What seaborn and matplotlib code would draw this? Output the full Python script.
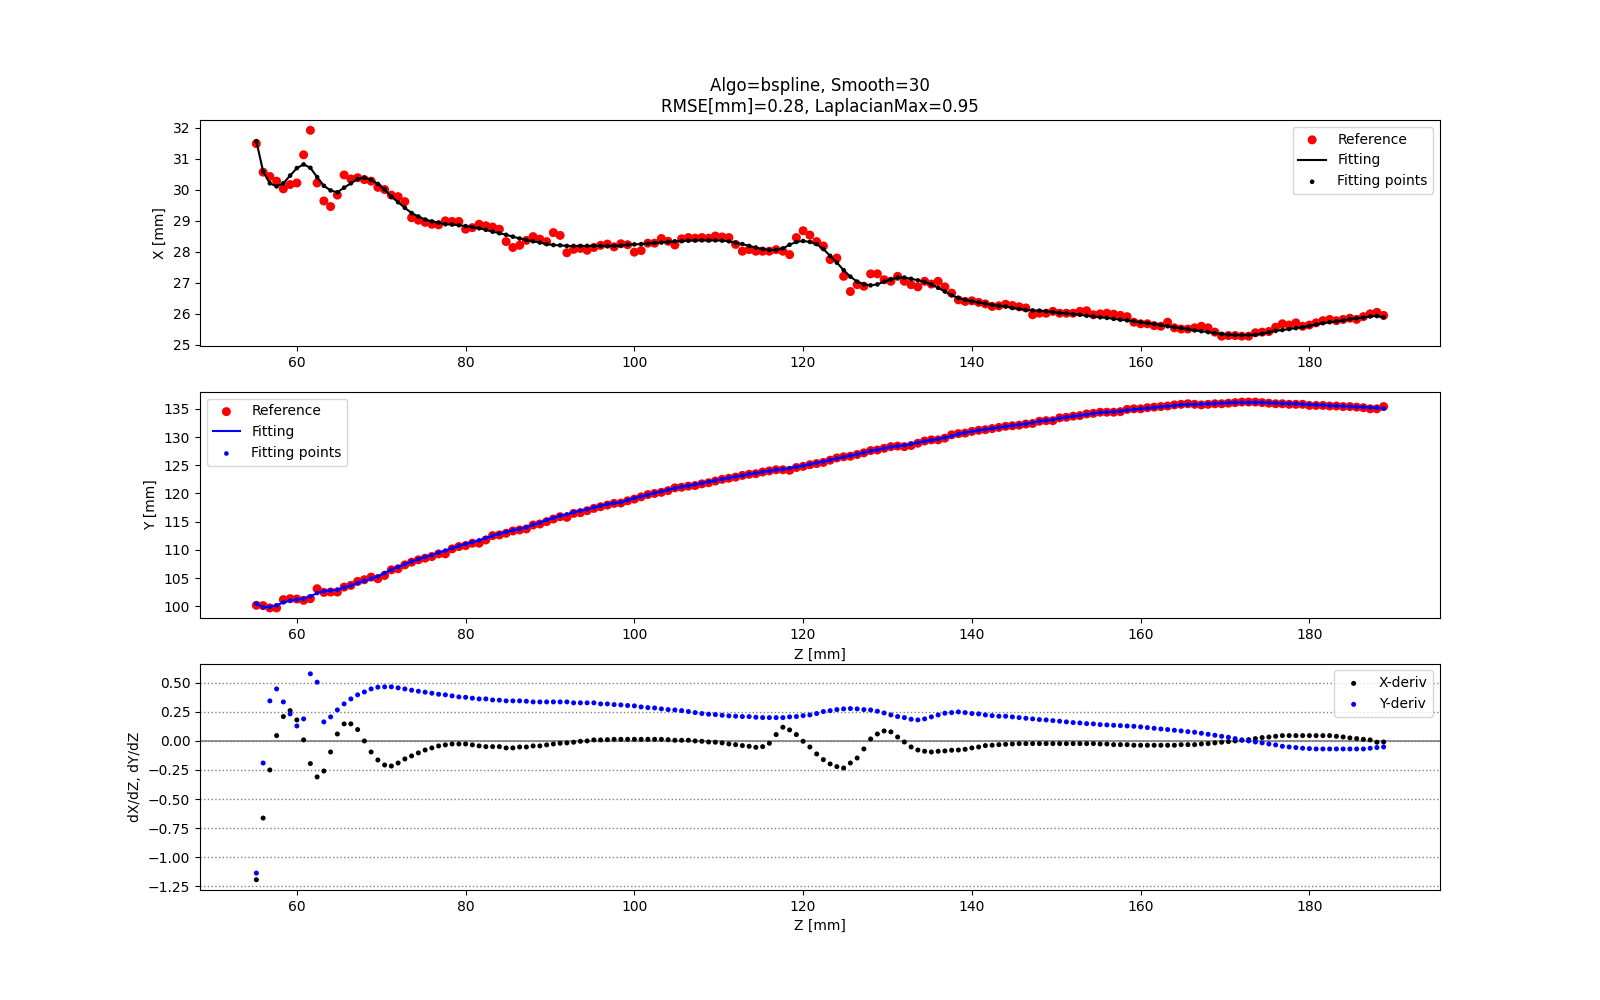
import matplotlib
matplotlib.use("Agg")
import matplotlib.pyplot as plt
from matplotlib.ticker import MultipleLocator
import seaborn as sns

# ---------------- data ----------------
Z = [55.2, 56.0, 56.8, 57.6, 58.4, 59.2, 60.0, 60.8, 61.6, 62.4,
     63.2, 64.0, 64.8, 65.6, 66.4, 67.2, 68.0, 68.8, 69.6, 70.4,
     71.2, 72.0, 72.8, 73.6, 74.4, 75.2, 76.0, 76.8, 77.6, 78.4,
     79.2, 80.0, 80.8, 81.6, 82.4, 83.2, 84.0, 84.8, 85.6, 86.4,
     87.2, 88.0, 88.8, 89.6, 90.4, 91.2, 92.0, 92.8, 93.6, 94.4,
     95.2, 96.0, 96.8, 97.6, 98.4, 99.2, 100.0, 100.8, 101.6, 102.4,
     103.2, 104.0, 104.8, 105.6, 106.4, 107.2, 108.0, 108.8, 109.6, 110.4,
     111.2, 112.0, 112.8, 113.6, 114.4, 115.2, 116.0, 116.8, 117.6, 118.4,
     119.2, 120.0, 120.8, 121.6, 122.4, 123.2, 124.0, 124.8, 125.6, 126.4,
     127.2, 128.0, 128.8, 129.6, 130.4, 131.2, 132.0, 132.8, 133.6, 134.4,
     135.2, 136.0, 136.8, 137.6, 138.4, 139.2, 140.0, 140.8, 141.6, 142.4,
     143.2, 144.0, 144.8, 145.6, 146.4, 147.2, 148.0, 148.8, 149.6, 150.4,
     151.2, 152.0, 152.8, 153.6, 154.4, 155.2, 156.0, 156.8, 157.6, 158.4,
     159.2, 160.0, 160.8, 161.6, 162.4, 163.2, 164.0, 164.8, 165.6, 166.4,
     167.2, 168.0, 168.8, 169.6, 170.4, 171.2, 172.0, 172.8, 173.6, 174.4,
     175.2, 176.0, 176.8, 177.6, 178.4, 179.2, 180.0, 180.8, 181.6, 182.4,
     183.2, 184.0, 184.8, 185.6, 186.4, 187.2, 188.0, 188.8]

X_ref = [31.48, 30.56, 30.42, 30.27, 30.02, 30.16, 30.21, 31.12, 31.91, 30.21,
         29.63, 29.45, 29.82, 30.47, 30.34, 30.38, 30.32, 30.27, 30.07, 30.00,
         29.82, 29.77, 29.61, 29.09, 29.01, 28.94, 28.88, 28.86, 28.99, 28.97,
         28.97, 28.72, 28.77, 28.88, 28.83, 28.79, 28.72, 28.32, 28.13, 28.20,
         28.36, 28.48, 28.40, 28.32, 28.61, 28.52, 27.96, 28.07, 28.10, 28.04,
         28.13, 28.20, 28.24, 28.15, 28.25, 28.22, 27.98, 28.03, 28.27, 28.27,
         28.42, 28.33, 28.21, 28.41, 28.45, 28.43, 28.45, 28.43, 28.50, 28.47,
         28.45, 28.23, 28.01, 28.06, 28.01, 28.01, 28.01, 28.06, 28.01, 27.90,
         28.45, 28.67, 28.53, 28.32, 28.18, 27.74, 27.79, 27.20, 26.71, 26.93,
         26.88, 27.28, 27.28, 27.09, 27.04, 27.20, 27.04, 26.93, 26.86, 27.04,
         26.95, 27.04, 26.86, 26.66, 26.44, 26.39, 26.41, 26.36, 26.31, 26.23,
         26.25, 26.30, 26.26, 26.22, 26.18, 25.96, 26.01, 26.01, 26.07, 26.01,
         26.01, 26.01, 26.07, 26.09, 25.96, 25.99, 26.01, 25.98, 25.94, 25.90,
         25.72, 25.67, 25.67, 25.61, 25.59, 25.72, 25.54, 25.50, 25.50, 25.54,
         25.59, 25.54, 25.40, 25.27, 25.29, 25.29, 25.27, 25.27, 25.38, 25.40,
         25.42, 25.56, 25.67, 25.63, 25.70, 25.59, 25.63, 25.70, 25.77, 25.81,
         25.77, 25.81, 25.85, 25.81, 25.90, 25.99, 26.04, 25.94]

X_fit = [31.56, 30.58, 30.20, 30.10, 30.20, 30.45, 30.69, 30.81, 30.70, 30.40,
         30.12, 29.97, 29.91, 30.06, 30.20, 30.34, 30.38, 30.31, 30.18, 30.00,
         29.77, 29.59, 29.41, 29.24, 29.13, 29.03, 28.97, 28.93, 28.88, 28.87,
         28.85, 28.82, 28.79, 28.75, 28.70, 28.64, 28.59, 28.54, 28.48, 28.42,
         28.37, 28.33, 28.29, 28.24, 28.21, 28.20, 28.18, 28.18, 28.18, 28.18,
         28.18, 28.18, 28.18, 28.18, 28.19, 28.22, 28.23, 28.24, 28.26, 28.28,
         28.29, 28.31, 28.33, 28.34, 28.35, 28.36, 28.36, 28.36, 28.36, 28.35,
         28.33, 28.28, 28.24, 28.18, 28.13, 28.08, 28.05, 28.05, 28.10, 28.22,
         28.31, 28.34, 28.31, 28.24, 28.08, 27.86, 27.64, 27.40, 27.19, 27.03,
         26.94, 26.91, 26.94, 27.03, 27.10, 27.16, 27.16, 27.12, 27.07, 27.02,
         26.94, 26.83, 26.71, 26.59, 26.50, 26.44, 26.39, 26.36, 26.32, 26.28,
         26.25, 26.23, 26.18, 26.15, 26.12, 26.10, 26.09, 26.07, 26.05, 26.02,
         26.01, 25.98, 25.96, 25.93, 25.91, 25.88, 25.86, 25.83, 25.80, 25.78,
         25.75, 25.72, 25.69, 25.66, 25.63, 25.59, 25.56, 25.53, 25.50, 25.46,
         25.43, 25.40, 25.37, 25.34, 25.32, 25.31, 25.30, 25.31, 25.32, 25.35,
         25.40, 25.44, 25.47, 25.50, 25.53, 25.56, 25.60, 25.65, 25.69, 25.72,
         25.75, 25.78, 25.82, 25.85, 25.87, 25.91, 25.92, 25.88]

Y_ref = [100.18, 100.12, 99.71, 99.71, 101.18, 101.35, 101.29, 101.06, 101.35, 103.12,
         102.47, 102.53, 102.53, 103.41, 103.71, 104.41, 104.71, 105.18, 104.88, 105.47,
         106.47, 106.65, 107.35, 107.82, 108.24, 108.53, 108.82, 109.29, 109.29, 110.18,
         110.59, 110.76, 111.18, 111.18, 111.76, 112.53, 112.65, 112.94, 113.35, 113.53,
         113.71, 114.41, 114.59, 115.00, 115.47, 115.88, 115.76, 116.47, 116.59, 116.94,
         117.35, 117.65, 117.94, 118.24, 118.30, 118.70, 119.00, 119.40, 119.80, 120.00,
         120.20, 120.50, 121.00, 121.10, 121.30, 121.40, 121.70, 121.90, 122.20, 122.50,
         122.70, 122.90, 123.20, 123.40, 123.50, 123.80, 124.00, 124.20, 124.20, 124.10,
         124.60, 124.80, 125.10, 125.30, 125.50, 125.90, 126.30, 126.50, 126.60, 126.90,
         127.20, 127.60, 127.70, 128.00, 128.30, 128.40, 128.30, 128.50, 128.90, 129.30,
         129.50, 129.50, 129.80, 130.40, 130.60, 130.70, 131.00, 131.20, 131.30, 131.50,
         131.70, 131.90, 132.00, 132.10, 132.30, 132.40, 132.80, 132.90, 132.90, 133.40,
         133.50, 133.70, 133.80, 134.10, 134.20, 134.40, 134.40, 134.40, 134.50, 134.90,
         135.00, 135.00, 135.20, 135.30, 135.40, 135.50, 135.70, 135.80, 135.90, 135.80,
         135.70, 135.80, 135.90, 135.90, 136.00, 136.10, 136.20, 136.20, 136.20, 136.10,
         136.00, 135.90, 135.90, 135.80, 135.80, 135.80, 135.60, 135.60, 135.60, 135.50,
         135.50, 135.40, 135.40, 135.30, 135.20, 135.00, 135.00, 135.40]

Y_fit = [100.47, 99.82, 99.88, 100.18, 100.70, 101.00, 101.18, 101.35, 101.76, 102.35,
         102.65, 102.82, 102.94, 103.35, 103.70, 104.10, 104.50, 104.90, 105.30, 105.90,
         106.50, 106.94, 107.47, 107.94, 108.35, 108.70, 109.06, 109.53, 109.88, 110.30,
         110.70, 111.06, 111.35, 111.70, 112.10, 112.50, 112.88, 113.18, 113.47, 113.70,
         114.00, 114.47, 114.80, 115.30, 115.65, 116.06, 116.30, 116.65, 116.94, 117.18,
         117.53, 117.82, 118.10, 118.30, 118.41, 118.82, 119.18, 119.47, 119.76, 120.06,
         120.35, 120.65, 120.94, 121.18, 121.35, 121.59, 121.82, 122.06, 122.29, 122.53,
         122.76, 123.00, 123.18, 123.41, 123.59, 123.82, 124.00, 124.18, 124.29, 124.47,
         124.71, 124.94, 125.18, 125.41, 125.65, 125.94, 126.18, 126.47, 126.71, 126.94,
         127.24, 127.53, 127.76, 128.00, 128.24, 128.41, 128.53, 128.76, 129.00, 129.24,
         129.47, 129.65, 129.88, 130.18, 130.53, 130.76, 131.00, 131.18, 131.35, 131.53,
         131.71, 131.88, 132.03, 132.18, 132.35, 132.53, 132.82, 132.94, 133.06, 133.35,
         133.53, 133.71, 133.82, 134.00, 134.18, 134.35, 134.41, 134.47, 134.59, 134.76,
         134.88, 135.00, 135.12, 135.24, 135.35, 135.47, 135.59, 135.71, 135.76, 135.76,
         135.82, 135.88, 135.94, 136.00, 136.06, 136.12, 136.12, 136.12, 136.12, 136.12,
         136.06, 136.00, 135.94, 135.94, 135.88, 135.82, 135.76, 135.71, 135.65, 135.59,
         135.53, 135.47, 135.41, 135.35, 135.29, 135.24, 135.18, 135.06]

dX = [-1.195, -0.664, -0.250, 0.046, 0.210, 0.261, 0.181, 0.009, -0.195, -0.310,
      -0.259, -0.095, 0.060, 0.147, 0.147, 0.098, 0.000, -0.095, -0.164, -0.207,
      -0.216, -0.190, -0.155, -0.129, -0.103, -0.078, -0.060, -0.043, -0.034, -0.026,
      -0.026, -0.026, -0.034, -0.043, -0.049, -0.049, -0.049, -0.060, -0.060, -0.052,
      -0.052, -0.043, -0.043, -0.034, -0.026, -0.020, -0.017, -0.011, -0.003, 0.000,
      0.009, 0.009, 0.011, 0.014, 0.014, 0.014, 0.014, 0.014, 0.014, 0.014,
      0.014, 0.011, 0.006, 0.006, 0.006, 0.000, -0.003, -0.009, -0.011, -0.017,
      -0.026, -0.032, -0.040, -0.046, -0.055, -0.049, -0.020, 0.055, 0.118, 0.095,
      0.055, -0.003, -0.052, -0.112, -0.161, -0.198, -0.221, -0.233, -0.190, -0.147,
      -0.069, 0.017, 0.060, 0.086, 0.078, 0.034, -0.009, -0.052, -0.078, -0.089,
      -0.095, -0.089, -0.086, -0.080, -0.078, -0.072, -0.060, -0.052, -0.040, -0.037,
      -0.032, -0.029, -0.026, -0.023, -0.023, -0.023, -0.023, -0.023, -0.023, -0.023,
      -0.023, -0.023, -0.023, -0.023, -0.023, -0.026, -0.026, -0.032, -0.032, -0.032,
      -0.037, -0.037, -0.037, -0.037, -0.037, -0.037, -0.037, -0.032, -0.032, -0.032,
      -0.026, -0.023, -0.017, -0.011, -0.006, 0.000, 0.006, 0.011, 0.020, 0.029,
      0.034, 0.040, 0.046, 0.046, 0.046, 0.046, 0.046, 0.046, 0.046, 0.046,
      0.040, 0.034, 0.026, 0.020, 0.014, 0.009, -0.011, -0.009]

dY = [-1.138, -0.190, 0.345, 0.448, 0.336, 0.233, 0.129, 0.190, 0.578, 0.506,
      0.164, 0.207, 0.267, 0.319, 0.362, 0.397, 0.422, 0.448, 0.463, 0.466,
      0.466, 0.457, 0.448, 0.437, 0.428, 0.420, 0.411, 0.402, 0.397, 0.388,
      0.379, 0.376, 0.368, 0.362, 0.362, 0.353, 0.351, 0.345, 0.345, 0.345,
      0.342, 0.336, 0.336, 0.336, 0.336, 0.336, 0.336, 0.328, 0.328, 0.328,
      0.328, 0.319, 0.319, 0.313, 0.310, 0.305, 0.302, 0.293, 0.287, 0.284,
      0.276, 0.270, 0.267, 0.261, 0.253, 0.244, 0.236, 0.230, 0.227, 0.221,
      0.216, 0.213, 0.210, 0.210, 0.204, 0.201, 0.201, 0.201, 0.201, 0.207,
      0.210, 0.218, 0.224, 0.236, 0.253, 0.261, 0.270, 0.276, 0.279, 0.276,
      0.270, 0.267, 0.256, 0.241, 0.224, 0.210, 0.201, 0.187, 0.181, 0.190,
      0.207, 0.224, 0.239, 0.244, 0.250, 0.244, 0.236, 0.233, 0.224, 0.218,
      0.213, 0.213, 0.207, 0.201, 0.195, 0.190, 0.184, 0.181, 0.175, 0.170,
      0.164, 0.158, 0.155, 0.149, 0.147, 0.141, 0.138, 0.135, 0.132, 0.129,
      0.126, 0.121, 0.115, 0.109, 0.103, 0.098, 0.092, 0.086, 0.080, 0.075,
      0.066, 0.057, 0.049, 0.040, 0.032, 0.020, 0.009, 0.000, -0.009, -0.017,
      -0.026, -0.034, -0.046, -0.052, -0.057, -0.063, -0.066, -0.069, -0.069, -0.069,
      -0.069, -0.069, -0.069, -0.069, -0.069, -0.063, -0.057, -0.052]

TITLE = "Algo=bspline, Smooth=30\nRMSE[mm]=0.28, LaplacianMax=0.95"

# ---------------- figure ----------------
fig, (ax1, ax2, ax3) = plt.subplots(3, 1, figsize=(16, 10), dpi=100)

REF_S = 42
PT_S = 11

# Panel 1 : X
sns.scatterplot(x=Z, y=X_ref, color="red", s=REF_S, linewidth=0, edgecolor="none",
                label="Reference", ax=ax1, zorder=1)
sns.lineplot(x=Z, y=X_fit, color="black", linewidth=1.5, label="Fitting",
             ax=ax1, sort=False, estimator=None, zorder=2)
sns.scatterplot(x=Z, y=X_fit, color="black", s=PT_S, linewidth=0, edgecolor="none",
                label="Fitting points", ax=ax1, zorder=3)
ax1.set_title(TITLE, fontsize=12)
ax1.set_ylabel("X [mm]")
ax1.set_xlabel("")
ax1.legend(loc="upper right")

# Panel 2 : Y
sns.scatterplot(x=Z, y=Y_ref, color="red", s=REF_S, linewidth=0, edgecolor="none",
                label="Reference", ax=ax2, zorder=1)
sns.lineplot(x=Z, y=Y_fit, color="blue", linewidth=1.5, label="Fitting",
             ax=ax2, sort=False, estimator=None, zorder=2)
sns.scatterplot(x=Z, y=Y_fit, color="blue", s=PT_S, linewidth=0, edgecolor="none",
                label="Fitting points", ax=ax2, zorder=3)
ax2.yaxis.set_major_locator(MultipleLocator(5))
ax2.set_ylabel("Y [mm]")
ax2.set_xlabel("Z [mm]")
ax2.legend(loc="upper left")

# Panel 3 : derivatives
ax3.axhline(0, color="gray", linewidth=1.2, zorder=0)
sns.scatterplot(x=Z, y=dX, color="black", s=PT_S + 2, linewidth=0, edgecolor="none",
                label="X-deriv", ax=ax3, zorder=3)
sns.scatterplot(x=Z, y=dY, color="blue", s=PT_S + 2, linewidth=0, edgecolor="none",
                label="Y-deriv", ax=ax3, zorder=3)
ax3.yaxis.grid(True, linestyle=":", color="gray", linewidth=1.0)
ax3.set_axisbelow(True)
ax3.set_ylabel("dX/dZ, dY/dZ")
ax3.set_xlabel("Z [mm]")
ax3.legend(loc="upper right")

fig.savefig("out.png", dpi=100)
